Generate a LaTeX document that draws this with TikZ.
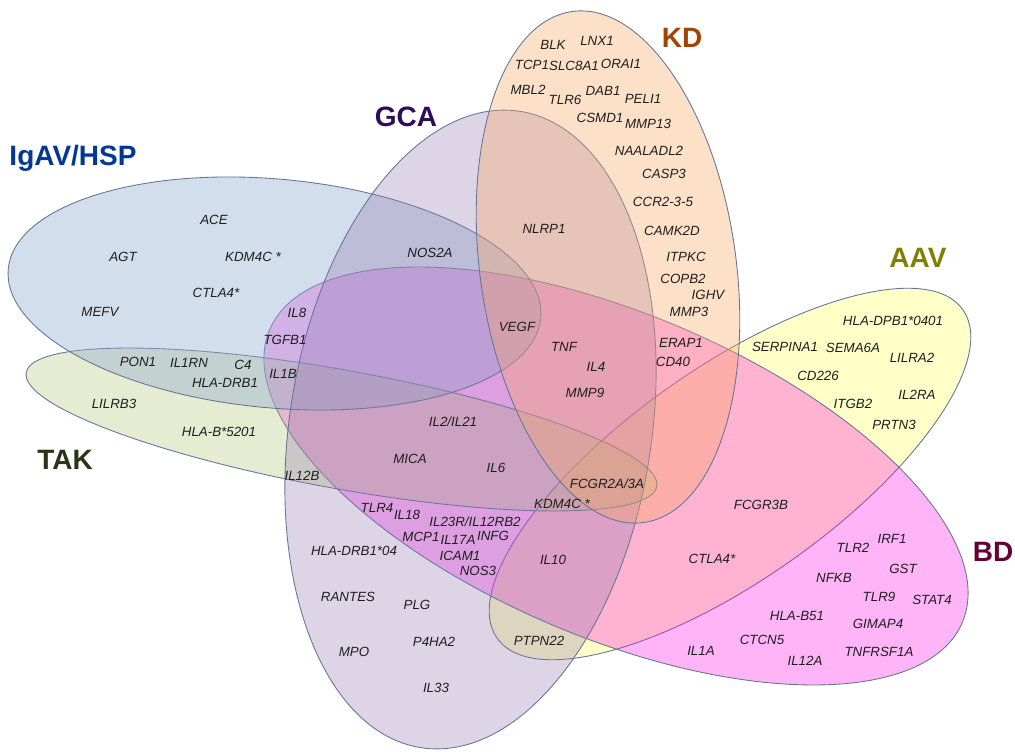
\documentclass[tikz,border=0pt]{standalone}
\usepackage{fontspec}
\setmainfont{Liberation Sans}
\definecolor{aavc}{RGB}{255,255,117}
\definecolor{bdc}{RGB}{255,5,232}
\definecolor{takc}{RGB}{172,192,105}
\definecolor{igac}{RGB}{142,172,207}
\definecolor{gcac}{RGB}{142,115,172}
\definecolor{kdc}{RGB}{249,166,98}
\definecolor{outl}{RGB}{98,118,152}
\definecolor{genec}{RGB}{30,30,30}
\definecolor{tIga}{RGB}{0,56,147}
\definecolor{tGca}{RGB}{46,12,90}
\definecolor{tKd}{RGB}{165,66,0}
\definecolor{tAav}{RGB}{128,128,0}
\definecolor{tTak}{RGB}{40,52,22}
\definecolor{tBd}{RGB}{100,0,50}
\tikzset{
  venn/.style={draw=outl, line width=0.65pt},
  gene/.style={font=\fontsize{10}{12}\selectfont\itshape, text=genec, inner sep=0pt},
  ttl/.style={font=\fontsize{21}{24}\selectfont\bfseries, inner sep=0pt}
}
\begin{document}
\begin{tikzpicture}[x=0.75pt,y=-0.75pt]
\useasboundingbox (0,0) rectangle (1015,752);
% ellipses
\path[venn, fill=aavc, fill opacity=0.4, shift={(730,474)}, rotate=35.2] (0,0) ellipse [x radius=213.75pt, y radius=79.5pt];
\path[venn, fill=bdc, fill opacity=0.3, shift={(616,476)}, rotate=-22.9] (0,0) ellipse [x radius=282pt, y radius=121.5pt];
\path[venn, fill=takc, fill opacity=0.3, shift={(341.5,429.5)}, rotate=-10.24] (0,0) ellipse [x radius=240.3pt, y radius=44.4pt];
\path[venn, fill=igac, fill opacity=0.4, shift={(274.5,293.5)}, rotate=-5.25] (0,0) ellipse [x radius=200.55pt, y radius=85.8pt];
\path[venn, fill=gcac, fill opacity=0.3, shift={(470.5,429.5)}, rotate=81.15] (0,0) ellipse [x radius=241.5pt, y radius=135.75pt];
\path[venn, fill=kdc, fill opacity=0.35, shift={(608,267)}, rotate=98] (0,0) ellipse [x radius=193.5pt, y radius=96pt];
% titles
\node[ttl, text=tIga] (tiga) at (73,158) {IgAV/HSP};
\node[ttl, text=tGca] (tgca) at (406,117) {GCA};
\node[ttl, text=tKd] (tkd) at (682,38) {KD};
\node[ttl, text=tAav] (taav) at (918,258) {AAV};
\node[ttl, text=tTak] (ttak) at (65,460) {TAK};
\node[ttl, text=tBd] (tbd) at (993,552) {BD};
% KD
\node[gene] (k1) at (553,45) {BLK};
\node[gene] (k2) at (597,41) {LNX1};
\node[gene] (k3) at (532,65) {TCP1};
\node[gene] (k4) at (574,66) {SLC8A1};
\node[gene] (k5) at (621,64) {ORAI1};
\node[gene] (k6) at (528,90) {MBL2};
\node[gene] (k7) at (565,100) {TLR6};
\node[gene] (k8) at (603,91) {DAB1};
\node[gene] (k9) at (643,99) {PELI1};
\node[gene] (k10) at (600,118) {CSMD1};
\node[gene] (k11) at (648,124) {MMP13};
\node[gene] (k12) at (649,151) {NAALADL2};
\node[gene] (k13) at (664,174) {CASP3};
\node[gene] (k14) at (663,202) {CCR2-3-5};
\node[gene] (k15) at (672,231) {CAMK2D};
\node[gene] (k16) at (686,257) {ITPKC};
\node[gene] (k17) at (683,279) {COPB2};
\node[gene] (k18) at (708,295) {IGHV};
\node[gene] (k19) at (689,312) {MMP3};
\node[gene] (k20) at (681,343) {ERAP1};
\node[gene] (k21) at (673,362) {CD40};
\node[gene] (k22) at (544,229) {NLRP1};
\node[gene] (k23) at (517,327) {VEGF};
\node[gene] (k24) at (564,347) {TNF};
\node[gene] (k25) at (596,367) {IL4};
\node[gene] (k26) at (585,393) {MMP9};
% IgAV / TAK
\node[gene] (i1) at (214,220) {ACE};
\node[gene] (i2) at (123,257) {AGT};
\node[gene] (i3) at (253,257) {KDM4C *};
\node[gene] (i4) at (216,293) {CTLA4*};
\node[gene] (i5) at (100,312) {MEFV};
\node[gene] (i6) at (430,253) {NOS2A};
\node[gene] (i7) at (297,313) {IL8};
\node[gene] (i8) at (285,340) {TGFB1};
\node[gene] (i9) at (283,374) {IL1B};
\node[gene] (i10) at (138,362) {PON1};
\node[gene] (i11) at (189,363) {IL1RN};
\node[gene] (i12) at (243,365) {C4};
\node[gene] (i13) at (225,383) {HLA-DRB1};
\node[gene] (t1) at (114,404) {LILRB3};
\node[gene] (t2) at (219,432) {HLA-B*5201};
\node[gene] (t3) at (302,476) {IL12B};
% centre
\node[gene] (c1) at (453,422) {IL2/IL21};
\node[gene] (c2) at (410,459) {MICA};
\node[gene] (c3) at (496,468) {IL6};
\node[gene] (c4) at (607,484) {FCGR2A/3A};
\node[gene] (c5) at (562,504) {KDM4C *};
\node[gene] (c6) at (377,508) {TLR4};
\node[gene] (c7) at (407,515) {IL18};
\node[gene] (c8) at (475,522) {IL23R/IL12RB2};
\node[gene] (c9) at (421,537) {MCP1};
\node[gene] (c10) at (458,540) {IL17A};
\node[gene] (c11) at (493,536) {INFG};
\node[gene] (c12) at (354,551) {HLA-DRB1*04};
\node[gene] (c13) at (460,556) {ICAM1};
\node[gene] (c14) at (478,571) {NOS3};
\node[gene] (c15) at (553,560) {IL10};
\node[gene] (c16) at (348,597) {RANTES};
\node[gene] (c17) at (417,605) {PLG};
\node[gene] (c18) at (434,642) {P4HA2};
\node[gene] (c19) at (354,652) {MPO};
\node[gene] (c20) at (436,688) {IL33};
\node[gene] (c21) at (539,641) {PTPN22};
% AAV
\node[gene] (a1) at (893,321) {HLA-DPB1*0401};
\node[gene] (a2) at (785,347) {SERPINA1};
\node[gene] (a3) at (853,348) {SEMA6A};
\node[gene] (a4) at (912,358) {LILRA2};
\node[gene] (a5) at (818,376) {CD226};
\node[gene] (a6) at (917,395) {IL2RA};
\node[gene] (a7) at (853,404) {ITGB2};
\node[gene] (a8) at (894,425) {PRTN3};
% BD
\node[gene] (b1) at (761,505) {FCGR3B};
\node[gene] (b2) at (712,559) {CTLA4*};
\node[gene] (b3) at (853,548) {TLR2};
\node[gene] (b4) at (892,539) {IRF1};
\node[gene] (b5) at (903,569) {GST};
\node[gene] (b6) at (834,578) {NFKB};
\node[gene] (b7) at (879,597) {TLR9};
\node[gene] (b8) at (932,600) {STAT4};
\node[gene] (b9) at (797,616) {HLA-B51};
\node[gene] (b10) at (878,624) {GIMAP4};
\node[gene] (b11) at (762,640) {CTCN5};
\node[gene] (b12) at (701,651) {IL1A};
\node[gene] (b13) at (879,652) {TNFRSF1A};
\node[gene] (b14) at (805,661) {IL12A};
\end{tikzpicture}
\end{document}
